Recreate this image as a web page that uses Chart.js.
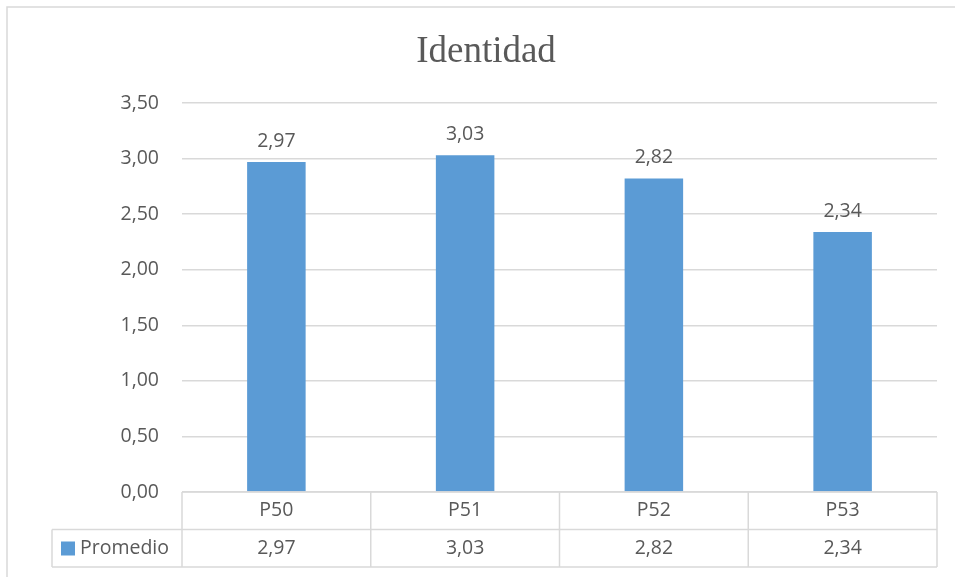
<!DOCTYPE html>
<html>
<head>
<meta charset="utf-8">
<script src="https://cdn.jsdelivr.net/npm/chart.js@4.4.0/dist/chart.umd.min.js"></script>
<style>
  body { margin: 0; background: #fff; }
  #wrap { width: 955px; height: 577px; position: relative; }
</style>
</head>
<body>
<div id="wrap"><canvas id="chart-identidad" width="955" height="577"></canvas></div>
<script>
// data
const categories = ['P50', 'P51', 'P52', 'P53'];
const promedio = [2.97, 3.03, 2.82, 2.34];
const seriesName = 'Promedio';
const yTicks = [0, 0.5, 1, 1.5, 2, 2.5, 3, 3.5];

const textColor = '#595959';
const gridColor = '#D9D9D9';
const barColor = '#5B9BD5';
const uiFont = '"Open Sans", "Noto Sans", sans-serif';

function fmt(v) {
  return v.toFixed(2).replace('.', ',');
}

// frame, data labels and the data table under the x axis
const tablePlugin = {
  id: 'tablePlugin',
  beforeDraw(chart) {
    const ctx = chart.ctx;
    ctx.save();
    ctx.fillStyle = '#fff';
    ctx.fillRect(0, 0, chart.width, chart.height);
    ctx.strokeStyle = gridColor;
    ctx.lineWidth = 1.5;
    ctx.beginPath();
    ctx.moveTo(7, chart.height);
    ctx.lineTo(7, 7);
    ctx.lineTo(chart.width, 7);
    ctx.stroke();
    ctx.restore();
  },
  afterDatasetsDraw(chart) {
    const ctx = chart.ctx;
    const meta = chart.getDatasetMeta(0);
    ctx.save();
    ctx.font = '19.5px ' + uiFont;
    ctx.fillStyle = textColor;
    ctx.textAlign = 'center';
    ctx.textBaseline = 'bottom';
    meta.data.forEach((bar, i) => {
      ctx.fillText(fmt(promedio[i]), bar.x, bar.y - 11);
    });
    ctx.restore();
  },
  afterDraw(chart) {
    const ctx = chart.ctx;
    const xs = chart.scales.x;
    const area = chart.chartArea;
    const rowH = 37.5;
    const top = area.bottom;
    const mid = top + rowH;
    const bot = mid + rowH;
    const legendLeft = 52;
    const half = (xs.getPixelForValue(1) - xs.getPixelForValue(0)) / 2;

    ctx.save();
    ctx.strokeStyle = gridColor;
    ctx.lineWidth = 1.5;
    ctx.beginPath();
    // horizontal lines
    ctx.moveTo(area.left, top); ctx.lineTo(area.right, top);
    ctx.moveTo(legendLeft, mid); ctx.lineTo(area.right, mid);
    ctx.moveTo(legendLeft, bot); ctx.lineTo(area.right, bot);
    // vertical lines
    ctx.moveTo(legendLeft, mid); ctx.lineTo(legendLeft, bot);
    categories.forEach((c, i) => {
      const x = xs.getPixelForValue(i) - half;
      ctx.moveTo(x, top); ctx.lineTo(x, bot);
    });
    ctx.moveTo(area.right, top); ctx.lineTo(area.right, bot);
    ctx.stroke();

    ctx.font = '19.5px ' + uiFont;
    ctx.fillStyle = textColor;
    ctx.textAlign = 'center';
    ctx.textBaseline = 'middle';
    categories.forEach((c, i) => {
      const x = xs.getPixelForValue(i);
      ctx.fillText(c, x, top + rowH / 2);
      ctx.fillText(fmt(promedio[i]), x, mid + rowH / 2);
    });

    // legend key
    ctx.fillStyle = barColor;
    ctx.fillRect(61, mid + 12, 14, 14);
    ctx.fillStyle = textColor;
    ctx.textAlign = 'left';
    ctx.fillText(seriesName, 80, mid + rowH / 2);
    ctx.restore();
  }
};

const chartCanvas = document.getElementById('chart-identidad');

const chartIdentidad = new Chart(chartCanvas, {
  type: 'bar',
  data: {
    labels: categories,
    datasets: [{
      label: seriesName,
      data: promedio,
      backgroundColor: barColor,
      categoryPercentage: 1,
      barPercentage: 0.31
    }]
  },
  options: {
    responsive: false,
    animation: false,
    layout: {
      padding: { left: 35, right: 18, top: 0, bottom: 0 }
    },
    plugins: {
      legend: { display: false },
      tooltip: { enabled: false },
      title: {
        display: true,
        text: 'Identidad',
        color: textColor,
        font: { family: '"Liberation Serif", "Times New Roman", serif', size: 37, weight: 'normal' },
        padding: { top: 30, bottom: 28.6 }
      }
    },
    scales: {
      x: {
        ticks: { display: false },
        grid: { display: false },
        border: { display: false },
        afterFit(scale) { scale.height = 85; }
      },
      y: {
        min: 0,
        max: 3.5,
        afterBuildTicks(scale) {
          scale.ticks = yTicks.map(v => ({ value: v }));
        },
        ticks: {
          color: textColor,
          font: { family: uiFont, size: 19.5 },
          padding: 23,
          callback: v => fmt(v)
        },
        grid: { color: gridColor, lineWidth: 1.5, drawTicks: false },
        border: { display: false },
        afterFit(scale) { scale.width = 147; }
      }
    }
  },
  plugins: [tablePlugin]
});
</script>
</body>
</html>
